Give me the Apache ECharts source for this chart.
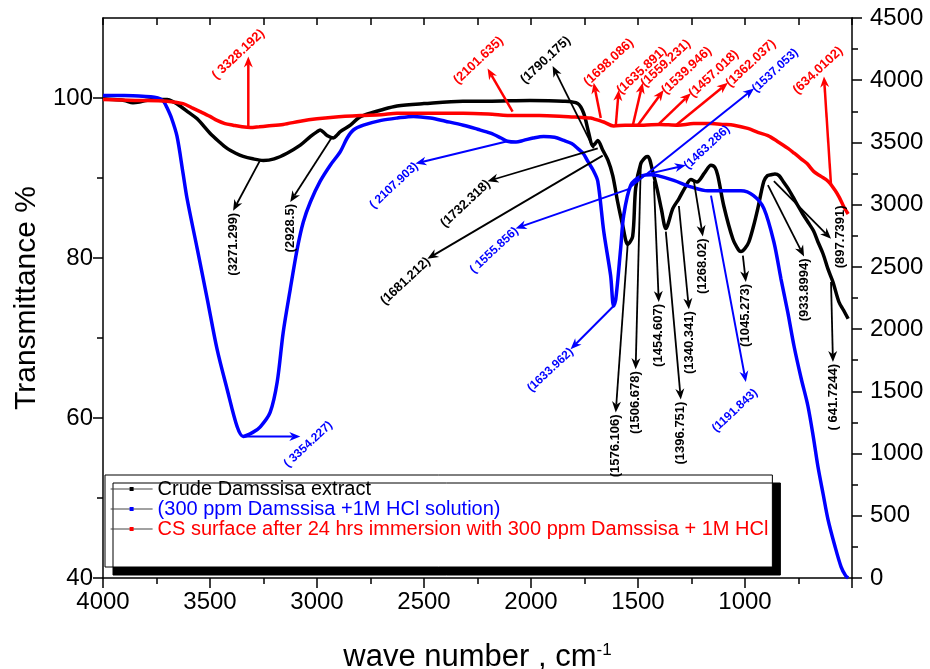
<!DOCTYPE html>
<html>
<head>
<meta charset="utf-8">
<script src="https://cdn.jsdelivr.net/npm/echarts@6/dist/echarts.min.js"></script>
<style>
  html, body { margin: 0; padding: 0; background: #fff; }
  #main { width: 930px; height: 669px; }
</style>
</head>
<body>
<div id="main"></div>
<script>
"use strict";

// series names
var seriesNames = [
    'Crude Damssisa extract',
    '(300 ppm Damssisa +1M HCl solution)',
    'CS surface after 24 hrs immersion with 300 ppm Damssisa + 1M HCl'
];

// crude extract (black)
var crudeWn = [4000, 3950, 3900, 3860, 3830, 3800, 3750, 3700, 3670, 3640,
    3600, 3560, 3500, 3460, 3420, 3380, 3345, 3300, 3251, 3200,
    3140, 3078, 3030, 2999, 2985, 2965, 2952, 2924, 2905, 2891,
    2844, 2807, 2785, 2700, 2626, 2500, 2318, 2200, 2005, 1850,
    1782, 1754, 1730, 1712, 1700, 1688, 1665, 1640, 1618, 1595,
    1571, 1548, 1525, 1511, 1487, 1465, 1454, 1431, 1408, 1390,
    1370, 1337, 1309, 1280, 1253, 1225, 1190, 1159, 1140, 1127,
    1099, 1057, 1030, 1019, 1000, 982, 960, 940, 912, 895,
    879, 860, 841, 820, 799, 775, 752, 730, 706, 680,
    659, 635, 612, 589, 561, 540, 518];
var crudeT = [99.9, 99.8, 99.7, 99.4, 99.5, 99.7, 99.8, 99.8, 99.5, 99.0,
    98.2, 97.4, 95.6, 94.6, 93.7, 93.1, 92.7, 92.4, 92.2, 92.4,
    93.1, 94.1, 95.2, 95.8, 96.0, 95.6, 95.3, 95.0, 95.4, 95.8,
    96.6, 97.5, 97.8, 98.5, 99.0, 99.3, 99.6, 99.6, 99.7, 99.6,
    99.3, 98.1, 95.6, 94.0, 94.3, 94.7, 93.5, 92.2, 90.3, 87.0,
    84.0, 81.7, 82.7, 88.7, 91.8, 92.6, 92.7, 90.8, 88.3, 86.0,
    83.7, 86.2, 87.4, 88.8, 89.8, 89.5, 90.6, 91.6, 91.3, 90.3,
    86.5, 82.4, 81.0, 80.8, 81.2, 82.0, 84.0, 86.2, 89.6, 90.3,
    90.4, 90.5, 90.3, 89.5, 88.7, 87.6, 86.5, 85.5, 84.5, 83.4,
    82.0, 80.5, 78.6, 77.0, 74.5, 73.5, 72.4];

// 300 ppm + HCl solution (blue)
var solWn = [4000, 3900, 3800, 3760, 3733, 3715, 3701, 3680, 3654, 3626,
    3607, 3560, 3513, 3467, 3420, 3373, 3345, 3300, 3265, 3219,
    3186, 3158, 3125, 3092, 3064, 3031, 2985, 2938, 2891, 2859,
    2830, 2783, 2700, 2624, 2549, 2470, 2400, 2316, 2250, 2189,
    2140, 2110, 2070, 2035, 1990, 1941, 1890, 1847, 1810, 1782,
    1754, 1735, 1710, 1688, 1660, 1628, 1614, 1604, 1581, 1567,
    1534, 1487, 1440, 1408, 1333, 1253, 1174, 1100, 1019, 960,
    912, 865, 832, 800, 771, 738, 706, 680, 659, 635,
    612, 580, 551, 530, 518];
var solT = [100.3, 100.3, 100.2, 100.1, 99.9, 99.5, 98.8, 97.5, 95.2, 90.6,
    87.4, 81.2, 74.9, 68.6, 63.6, 58.9, 57.7, 58.2, 58.9, 60.7,
    64.5, 70.7, 76.1, 81.2, 84.5, 87.0, 89.6, 91.6, 93.3, 95.0,
    96.0, 96.6, 97.2, 97.5, 97.7, 97.5, 97.1, 96.6, 96.1, 95.6,
    95.0, 94.6, 94.5, 94.7, 95.0, 95.2, 95.1, 94.7, 94.3, 93.7,
    93.0, 92.1, 91.0, 89.6, 83.3, 77.8, 74.0, 74.8, 81.2, 85.3,
    89.1, 90.2, 90.4, 90.3, 89.7, 88.9, 88.4, 88.4, 88.4, 87.8,
    86.2, 82.0, 77.4, 73.2, 69.0, 65.0, 61.5, 57.5, 53.9, 50.5,
    47.3, 44.0, 41.4, 40.3, 40.0];

// CS surface after immersion (red)
var surfWn = [4000, 3850, 3701, 3626, 3586, 3546, 3500, 3467, 3430, 3392,
    3350, 3312, 3270, 3233, 3158, 3078, 3000, 2924, 2797, 2700,
    2626, 2500, 2316, 2200, 2081, 1961, 1847, 1780, 1721, 1707,
    1660, 1614, 1560, 1473, 1400, 1314, 1240, 1159, 1100, 1052,
    987, 940, 893, 850, 799, 770, 738, 710, 678, 645,
    612, 580, 560, 540, 518];
var surfT = [99.8, 99.7, 99.6, 99.3, 98.8, 98.3, 97.7, 97.2, 96.8, 96.6,
    96.4, 96.3, 96.4, 96.5, 96.7, 97.1, 97.4, 97.6, 97.8, 97.9,
    98.1, 98.1, 98.1, 98.0, 97.8, 97.8, 97.7, 97.6, 97.5, 97.4,
    97.0, 96.5, 96.6, 96.6, 96.7, 96.6, 96.8, 96.8, 96.7, 96.6,
    96.2, 95.7, 95.3, 94.6, 93.7, 93.1, 92.4, 91.8, 90.8, 90.2,
    89.6, 88.5, 87.6, 86.5, 85.5];

// peak notes: [label, fromWn, fromT, toWn, toT, mode]
var crudePeaks = [
    ['(3271.299)', 3266, 92.2, 3392, 85.9, 'v'],
    ['(2928.5)', 2928, 95.2, 3125, 87.0, 'v'],
    ['(1790.175)', 1707, 93.7, 1899, 104.0, 'c'],
    ['(1732.318)', 1688, 93.7, 2203, 89.6, 'e'],
    ['(1681.212)', 1665, 92.8, 2484, 79.9, 'e'],
    ['(1576.106)', 1548, 81.8, 1604, 60.7, 'v'],
    ['(1506.678)', 1487, 91.6, 1511, 66.1, 'v'],
    ['(1454.607)', 1426, 89.6, 1403, 74.5, 'v'],
    ['(1396.751)', 1370, 83.3, 1300, 62.3, 'v'],
    ['(1340.341)', 1309, 86.5, 1262, 73.6, 'v'],
    ['(1268.02)', 1239, 89.6, 1197, 82.7, 'v'],
    ['(1045.273)', 1010, 80.3, 996, 77.0, 'v'],
    ['(933.8994)', 893, 89.1, 724, 80.2, 'v'],
    ['(897.7391)', 865, 89.6, 598, 82.4, 'r'],
    ['( 641.7244)', 598, 77.0, 589, 67.0, 'v']
];
var solPeaks = [
    ['( 3354.227)', 3345, 57.7, 3078, 57.7, 'c'],
    ['( 2107.903)', 2110, 94.6, 2540, 91.8, 'e'],
    ['( 1555.856)', 1534, 88.7, 2072, 83.7, 'e'],
    ['(1633.962)', 1614, 74.0, 1815, 68.6, 'e'],
    ['(1463.286)', 1487, 90.3, 1277, 91.6, 's'],
    ['(1537.053)', 1534, 88.9, 958, 101.2, 's'],
    ['(1191.843)', 1159, 87.8, 996, 64.5, 'e']
];
var surfPeaks = [
    ['( 3328.192)', 3321, 96.3, 3321, 105.2, 'c'],
    ['(2101.635)', 2086, 98.3, 2203, 103.7, 'c'],
    ['(1698.086)', 1674, 97.5, 1707, 101.9, 's'],
    ['(1635.891)', 1604, 96.5, 1590, 101.0, 's'],
    ['(1559.231)', 1525, 96.5, 1478, 101.9, 's'],
    ['(1539.946)', 1501, 96.6, 1380, 101.0, 's'],
    ['(1457.018)', 1408, 96.6, 1253, 100.6, 's'],
    ['(1362.037)', 1323, 96.6, 1080, 101.9, 's'],
    ['(634.0102)', 598, 89.1, 631, 102.7, 'c']
];

// small pixel nudges for some labels
var labelShift = {
    '(1790.175)': [-7, -6],
    '( 3354.227)': [8, 8],
    '( 3328.192)': [-10, -2],
    '(2101.635)': [-9, -8],
    '(634.0102)': [-6, -6],
    '(1191.843)': [9, 8],
    '(1698.086)': [-8, -1]
};

var SLANT = 43 * Math.PI / 180;
var FONT = 'Arial, "Liberation Sans", sans-serif';

function zip(xs, ys) {
    var out = [];
    for (var i = 0; i < Math.min(xs.length, ys.length); i++) out.push([xs[i], ys[i]]);
    return out;
}

function arrowRenderer(notes, color, lw, fontSize) {
    return function (params, api) {
        var n = notes[params.dataIndex];
        var p1 = api.coord([api.value(0), api.value(1)]);
        var p2 = api.coord([api.value(2), api.value(3)]);
        var ang = Math.atan2(p2[1] - p1[1], p2[0] - p1[0]);
        var c = Math.cos(ang), s = Math.sin(ang);
        var L = 11, W = 4.5;
        var head = [
            [p2[0], p2[1]],
            [p2[0] - L * c - W * s, p2[1] - L * s + W * c],
            [p2[0] - 0.7 * L * c, p2[1] - 0.7 * L * s],
            [p2[0] - L * c + W * s, p2[1] - L * s - W * c]
        ];
        var sh = labelShift[n[0]] || [0, 0];
        var tx = p2[0] + sh[0], ty = p2[1] + sh[1], rot = SLANT, align = 'center';
        if (n[5] === 'v') { rot = Math.PI / 2; align = 'right'; ty += 2; }
        else if (n[5] === 'r') { rot = Math.PI / 2; align = 'center'; tx += 9; ty -= 2; }
        else if (n[5] === 's') { align = 'left'; ty += 2; }
        else if (n[5] === 'e') { align = 'right'; tx += 1; ty += 1; }
        return {
            type: 'group',
            children: [{
                type: 'line',
                shape: { x1: p1[0], y1: p1[1], x2: p2[0] - 0.7 * L * c, y2: p2[1] - 0.7 * L * s },
                style: { stroke: color, lineWidth: lw }
            }, {
                type: 'polygon',
                shape: { points: head },
                style: { fill: color }
            }, {
                type: 'text',
                x: tx, y: ty, rotation: rot,
                style: {
                    text: n[0], fill: color, align: align, verticalAlign: 'middle',
                    font: 'bold ' + fontSize + 'px ' + FONT
                }
            }]
        };
    };
}

function noteSeries(notes, color, lw, fontSize) {
    return {
        type: 'custom',
        silent: true,
        clip: false,
        z: 10,
        encode: { x: [0, 2], y: [1, 3] },
        data: notes.map(function (n) { return [n[1], n[2], n[3], n[4]]; }),
        renderItem: arrowRenderer(notes, color, lw, fontSize)
    };
}

function curve(name, wn, t, color) {
    return {
        name: name,
        type: 'line',
        data: zip(wn, t),
        symbol: 'rect',
        symbolSize: 4,
        showSymbol: false,
        smooth: 0.3,
        lineStyle: { color: color, width: 3.5 },
        itemStyle: { color: color },
        z: 3
    };
}

function plain(v) { return String(v); }

var tickLabel = { color: '#000', fontSize: 24, fontFamily: FONT, formatter: plain };

var chart = echarts.init(document.getElementById('main'));
chart.setOption({
    animation: false,
    backgroundColor: '#fff',
    grid: { left: 103, right: 78, top: 18, bottom: 91, outerBoundsMode: 'none' },
    legend: {
        left: 105, top: 475,
        orient: 'vertical',
        itemWidth: 42, itemHeight: 5, itemGap: 0,
        padding: [4, 4, 28, 5],
        backgroundColor: '#fff',
        borderColor: '#000', borderWidth: 1,
        shadowColor: '#000', shadowBlur: 0, shadowOffsetX: 8, shadowOffsetY: 8,
        lineStyle: { color: '#444', width: 1.2 },
        textStyle: { fontSize: 20, fontFamily: FONT },
        data: [
            { name: seriesNames[0], textStyle: { color: '#000' } },
            { name: seriesNames[1], textStyle: { color: '#0000ff' } },
            { name: seriesNames[2], textStyle: { color: '#ff0000' } }
        ]
    },
    xAxis: [{
        type: 'value', min: 500, max: 4000, interval: 500, inverse: true,
        position: 'bottom',
        name: '{a|wave number , cm}{b|-1}',
        nameLocation: 'middle', nameGap: 64,
        nameTextStyle: {
            rich: {
                a: { fontSize: 31, color: '#000', fontFamily: FONT },
                b: { fontSize: 17, color: '#000', fontFamily: FONT, verticalAlign: 'top' }
            }
        },
        axisLine: { lineStyle: { color: '#000', width: 1.5 } },
        axisTick: { inside: false, length: 10, lineStyle: { color: '#000', width: 1.5 } },
        minorTick: { show: true, splitNumber: 2, length: 6, lineStyle: { color: '#000', width: 1.5 } },
        axisLabel: Object.assign({ margin: 12, showMinLabel: false }, tickLabel),
        splitLine: { show: false }
    }, {
        type: 'value', min: 500, max: 4000, interval: 250, inverse: true,
        position: 'top',
        axisLine: { lineStyle: { color: '#000', width: 1.5 } },
        axisTick: { inside: true, length: 7, lineStyle: { color: '#000', width: 1.5 } },
        axisLabel: { show: false },
        splitLine: { show: false }
    }],
    yAxis: [{
        type: 'value', min: 40, max: 110, position: 'left',
        name: 'Transmittance %',
        nameLocation: 'middle', nameGap: 60,
        nameTextStyle: { fontSize: 30, color: '#000', fontFamily: FONT },
        axisLine: { show: true, lineStyle: { color: '#000', width: 1.5 } },
        axisTick: { customValues: [40, 60, 80, 100], length: 10, lineStyle: { color: '#000', width: 1.5 } },
        axisLabel: Object.assign({ margin: 10, customValues: [40, 60, 80, 100] }, tickLabel),
        splitLine: { show: false }
    }, {
        type: 'value', min: 0, max: 4500, interval: 500, position: 'right',
        axisLine: { show: true, lineStyle: { color: '#000', width: 1.5 } },
        axisTick: { length: 10, lineStyle: { color: '#000', width: 1.5 } },
        minorTick: { show: true, splitNumber: 2, length: 6, lineStyle: { color: '#000', width: 1.5 } },
        axisLabel: Object.assign({ margin: 18 }, tickLabel),
        splitLine: { show: false }
    }, {
        type: 'value', min: 40, max: 110, position: 'left',
        axisLine: { show: false },
        axisTick: { customValues: [50, 70, 90], length: 6, lineStyle: { color: '#000', width: 1.5 } },
        axisLabel: { show: false },
        splitLine: { show: false }
    }],
    series: [
        curve(seriesNames[0], crudeWn, crudeT, '#000000'),
        curve(seriesNames[1], solWn, solT, '#0000ff'),
        curve(seriesNames[2], surfWn, surfT, '#ff0000'),
        noteSeries(crudePeaks, '#000000', 1.8, 13),
        noteSeries(solPeaks, '#0000ff', 2, 12),
        noteSeries(surfPeaks, '#ff0000', 2.5, 13)
    ]
});
</script>
</body>
</html>
